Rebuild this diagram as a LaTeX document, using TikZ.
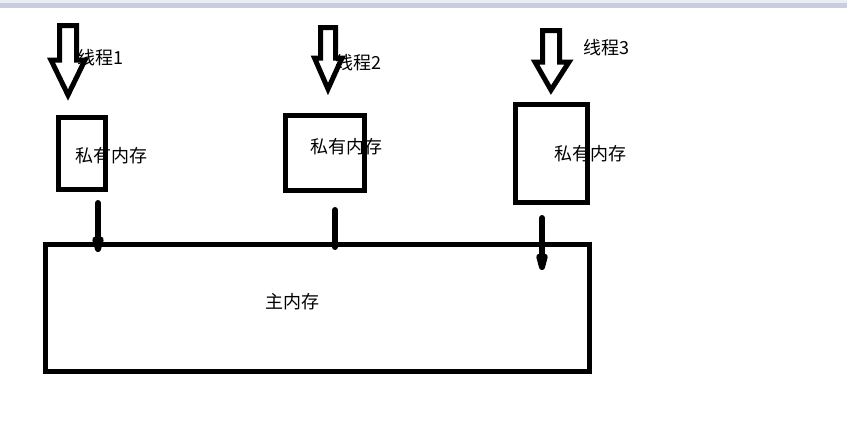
\documentclass[tikz,border=0pt]{standalone}
\usepackage{fontspec}
\newfontfamily\cjk{Noto Sans CJK SC}
\usetikzlibrary{arrows.meta}
\definecolor{barcol}{RGB}{200,205,225}
\definecolor{barlight}{RGB}{234,238,244}
\tikzset{
  membox/.style={draw=black, line width=5pt, minimum width=#1, inner sep=0pt, fill=none},
  lbl/.style={font=\cjk\fontsize{18pt}{21pt}\selectfont, inner sep=0pt, text=black},
  blockarrow/.style={draw=black, line width=5pt, line join=miter, fill=white},
  conn/.style={line width=6pt, line cap=round},
}
\begin{document}
\begin{tikzpicture}[x=1pt,y=-1pt]
\useasboundingbox (0,0) rectangle (847,429);
\fill[white] (0,0) rectangle (847,429);
\fill[barlight] (0,0) rectangle (847,3);
\fill[barcol] (0,3) rectangle (847,8);

% block arrows (thread inputs)
\draw[blockarrow] (59.5,25.5) -- (76.5,25.5) -- (76.5,60) -- (85,60) -- (68,95) -- (51,60) -- (59.5,60) -- cycle;
\draw[blockarrow] (320.5,27.5) -- (335.5,27.5) -- (335.5,58) -- (342,58) -- (328,89) -- (314.5,58) -- (320.5,58) -- cycle;
\draw[blockarrow] (542.5,30.5) -- (559.5,30.5) -- (559.5,62) -- (569,62) -- (551,90) -- (535,62) -- (542.5,62) -- cycle;

\node[lbl] (t1) at (100,58) {线程1};
\node[lbl] (t2) at (358,63) {线程2};
\node[lbl] (t3) at (606,48) {线程3};

% private memory boxes
\node[membox=47pt, minimum height=72pt] (b1) at (82,153.5) {};
\node[membox=79pt, minimum height=75pt] (b2) at (325,153) {};
\node[membox=72pt, minimum height=98pt] (b3) at (551.5,153.5) {};

% main memory
\node[membox=544pt, minimum height=127pt] (m) at (317.5,308) {};

\node[lbl] (p1) at (111,156) {私有内存};
\node[lbl] (p2) at (346,147) {私有内存};
\node[lbl] (p3) at (590,154) {私有内存};
\node[lbl] (mm) at (292,302) {主内存};

% connectors
\coordinate (c1s) at (98,203);
\coordinate (c1e) at (98,252);
\coordinate (c2s) at (335,210);
\coordinate (c2e) at (335,247);
\coordinate (c3s) at (542,218);
\coordinate (c3e) at (542,270);
\draw[conn, -{Triangle[width=11pt,length=28pt,round]}] (c1s) -- (c1e);
\draw[conn] (c2s) -- (c2e);
\draw[conn, -{Triangle[width=11pt,length=30pt,round]}] (c3s) -- (c3e);
\end{tikzpicture}
\end{document}
